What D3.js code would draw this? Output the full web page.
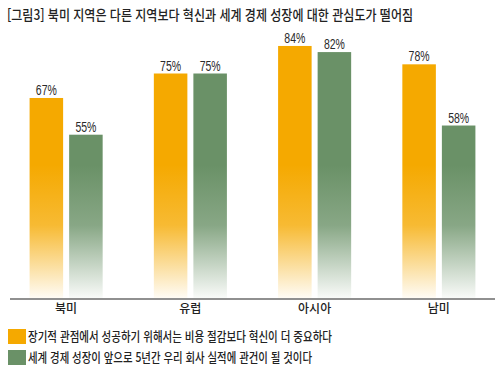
<!DOCTYPE html>
<html lang="ko">
<head>
  <meta charset="UTF-8">
  <script src="https://d3js.org/d3.v7.min.js"></script>
  <style>
    body { margin: 0; background: #fff; }
    svg { display: block; }
    .title, .legend text, .cat { font-family: 'Noto Sans CJK KR', sans-serif; fill: #222; font-weight: 500; }
    .val { font-family: 'Liberation Sans', Arial, sans-serif; font-size: 14px; fill: #2a2a2a; }
  </style>
</head>
<body>
<div id="chart"></div>
<script>
  // data
  let regions = ['북미', '유럽', '아시아', '남미']
  let innovation = [67, 75, 84, 78]
  let growth = [55, 75, 82, 58]
  let seriesNames = ['장기적 관점에서 성공하기 위해서는 비용 절감보다 혁신이 더 중요하다',
    '세계 경제 성장이 앞으로 5년간 우리 회사 실적에 관건이 될 것이다']
  let colors = ['#f5a900', '#6a9167']
  let title = '[그림3] 북미 지역은 다른 지역보다 혁신과 세계 경제 성장에 대한 관심도가 떨어짐'

  let width = 504, height = 375
  let axisY = 299

  let svg = d3.select('#chart').append('svg')
          .attr('width', width)
          .attr('height', height)

  // fade bars to white toward the baseline
  let defs = svg.append('defs')
  colors.forEach((c, i) => {
    let g = defs.append('linearGradient')
            .attr('id', 'fade' + i)
            .attr('gradientUnits', 'userSpaceOnUse')
            .attr('x1', 0).attr('x2', 0)
            .attr('y1', 165).attr('y2', axisY)
    g.append('stop').attr('offset', 0).attr('stop-color', c).attr('stop-opacity', 1)
    g.append('stop').attr('offset', 0.45).attr('stop-color', c).attr('stop-opacity', 0.8)
    g.append('stop').attr('offset', 1).attr('stop-color', c).attr('stop-opacity', 0.03)
  })

  let data = regions.map((r, i) => ({region: r, values: [innovation[i], growth[i]]}))

  let x0 = d3.scaleBand().domain(regions).range([4, 501]).paddingInner(0.412).paddingOuter(0.206)
  let x1 = d3.scaleBand().domain([0, 1]).range([0, x0.bandwidth()]).paddingInner(0.152)
  let y = d3.scaleLinear().domain([0, 100]).range([303, -3])

  svg.append('text')
          .attr('class', 'title')
          .attr('x', 7).attr('y', 20)
          .attr('font-size', 14)
          .attr('textLength', 406)
          .attr('lengthAdjust', 'spacingAndGlyphs')
          .text(title)

  let groups = svg.selectAll('.grp')
          .data(data)
          .join('g')
          .attr('class', 'grp')
          .attr('transform', d => 'translate(' + x0(d.region) + ',0)')

  groups.selectAll('rect')
          .data(d => d.values.map((v, k) => ({k, v})))
          .join('rect')
          .attr('x', d => x1(d.k))
          .attr('width', x1.bandwidth())
          .attr('y', d => y(d.v))
          .attr('height', d => axisY - 1 - y(d.v))
          .attr('fill', d => 'url(#fade' + d.k + ')')

  groups.selectAll('.val')
          .data(d => d.values.map((v, k) => ({k, v})))
          .join('text')
          .attr('class', 'val')
          .attr('x', d => x1(d.k) + x1.bandwidth() / 2)
          .attr('y', d => y(d.v) - 3)
          .attr('text-anchor', 'middle')
          .attr('textLength', 21)
          .attr('lengthAdjust', 'spacingAndGlyphs')
          .text(d => d.v + '%')

  // baseline + region labels
  svg.append('line')
          .attr('x1', 10).attr('x2', 495)
          .attr('y1', axisY).attr('y2', axisY)
          .attr('stroke', '#222').attr('stroke-width', 1.2)

  svg.selectAll('.cat')
          .data(regions)
          .join('text')
          .attr('class', 'cat')
          .attr('x', d => x0(d) + x0.bandwidth() / 2)
          .attr('y', 313)
          .attr('text-anchor', 'middle')
          .attr('font-size', 12)
          .text(d => d)

  // legend
  let legend = svg.append('g').attr('class', 'legend')
  let legendLen = [304, 284]
  seriesNames.forEach((s, i) => {
    let ly = 329 + i * 21
    legend.append('rect')
            .attr('x', 8).attr('y', ly)
            .attr('width', 18).attr('height', 15)
            .attr('fill', colors[i])
    legend.append('text')
            .attr('x', 28).attr('y', ly + 12)
            .attr('font-size', 13)
            .attr('textLength', legendLen[i])
            .attr('lengthAdjust', 'spacingAndGlyphs')
            .text(s)
  })
</script>
</body>
</html>
